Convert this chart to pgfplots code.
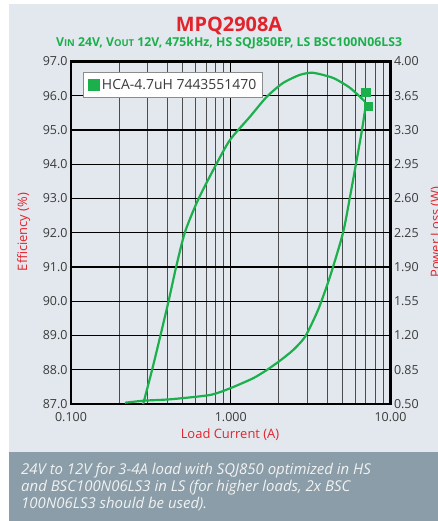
\documentclass[border=0pt]{standalone}
\usepackage{pgfplots}
\pgfplotsset{compat=1.18}
\usepackage{fontspec}
\setmainfont{Open Sans}
\definecolor{panel}{HTML}{E2E8EE}
\definecolor{band}{HTML}{8A9DA8}
\definecolor{mpsred}{HTML}{E3232C}
\definecolor{mpsgreen}{HTML}{1BB04B}
\definecolor{ticktext}{HTML}{3A3A3A}
\newcommand{\smc}[1]{{\fontsize{9.5}{10}\selectfont #1}}
\begin{document}
\begin{tikzpicture}
\useasboundingbox (0,0) rectangle (438bp,-521bp);
\fill[white] (0,0) rectangle (438bp,-521bp);
\fill[panel] (9bp,-4bp) rectangle (438bp,-452bp);
\fill[band] (9bp,-452bp) rectangle (438bp,-521bp);
\begin{axis}[
  scale only axis, width=319.5bp, height=342.5bp,
  at={(71bp,-404bp)}, anchor=south west,
  xmode=log, xmin=0.1, xmax=10,
  major tick length=0, minor tick length=0,
  tick label style={font=\fontsize{12.5}{14}\selectfont, text=ticktext},
  xticklabel style={yshift=-5bp},
  /pgf/number format/assume math mode=true,
  ymin=87, ymax=97, ytick={87,88,...,97},
  yticklabel style={/pgf/number format/.cd, fixed, fixed zerofill, precision=1},
  xtick={0.1,1,10}, xticklabels={0.100,1.000,10.00},
  minor xtick={0.2,0.3,0.4,0.5,0.6,0.7,0.8,0.9,2,3,4,5,6,7,8,9},
  xmajorgrids, xminorgrids, ymajorgrids,
  major grid style={black, line width=1.1pt},
  minor grid style={black!70, line width=0.8pt},
  axis line style={black, line width=2.2pt},
  legend style={at={(0.0376,0.969)}, anchor=north west, draw=black!45, fill=white,
    font=\fontsize{14}{16}\selectfont, text=ticktext, inner sep=4.5bp, line width=0.6pt},
  legend cell align=left,
]
\addplot[mpsgreen, line width=2.2pt, smooth, tension=0.4,
  legend image code/.code={\fill[mpsgreen] (0bp,-5bp) rectangle (10bp,5bp);}] coordinates {
(0.283,87.0)(0.322,88.0)(0.363,89.0)(0.408,90.0)(0.455,91.0)(0.517,92.02)
(0.624,92.96)(0.797,93.93)(0.989,94.71)(1.32,95.39)(1.68,95.97)
(2.12,96.37)(2.71,96.61)(3.27,96.67)(4.37,96.52)(5.58,96.23)(6.92,95.83)};
\addlegendentry{HCA-4.7uH 7443551470}
\addplot[only marks, mark=square*, mark size=4.3bp, mpsgreen, forget plot] coordinates {(7.0,96.10)};
\end{axis}
\begin{axis}[
  scale only axis, width=319.5bp, height=342.5bp,
  at={(71bp,-404bp)}, anchor=south west,
  xmode=log, xmin=0.1, xmax=10,
  major tick length=0, minor tick length=0,
  tick label style={font=\fontsize{12.5}{14}\selectfont, text=ticktext},
  /pgf/number format/assume math mode=true,
  axis y line*=right, axis x line=none,
  ymin=0.5, ymax=4, ytick={0.5,0.85,1.2,1.55,1.9,2.25,2.6,2.95,3.3,3.65,4},
  yticklabel style={/pgf/number format/.cd, fixed, fixed zerofill, precision=2},
  axis line style={black, line width=2.2pt},
]
\addplot[mpsgreen, line width=2.2pt, smooth, tension=0.4] coordinates {
(0.218,0.513)(0.286,0.534)(0.417,0.548)(0.741,0.592)(0.989,0.660)(1.38,0.763)
(1.68,0.847)(2.03,0.942)(2.46,1.052)(2.92,1.188)(3.52,1.461)(4.18,1.801)
(5.04,2.247)(5.58,2.618)(6.14,2.993)(6.63,3.30)(6.98,3.538)};
\addplot[only marks, mark=square*, mark size=4.3bp, mpsgreen] coordinates {(7.26,3.545)};
\end{axis}
\node[anchor=base, text=mpsred, font=\bfseries\fontsize{20}{22}\selectfont] at (229bp,-31bp) {MPQ2908A};
\node[anchor=base, text=mpsgreen, font=\bfseries\fontsize{12.3}{14}\selectfont] at (229bp,-46bp)
  {V\smc{IN} 24V, V\smc{OUT} 12V, 475kHz, HS SQJ850EP, LS BSC100N06LS3};
\node[anchor=base, text=mpsred, font=\fontsize{13}{15}\selectfont] at (230bp,-438bp) {Load Current (A)};
\node[anchor=base, rotate=90, text=mpsred, font=\fontsize{13}{15}\selectfont] at (27bp,-232bp) {Efficiency (\%)};
\node[anchor=base, rotate=90, text=mpsred, font=\fontsize{13}{15}\selectfont] at (440bp,-232bp) {Power Loss (W)};
\begin{scope}[every node/.style={anchor=base west, inner sep=0pt, text=white!95!black, font=\itshape\fontsize{15}{17}\selectfont}]
\node at (21bp,-474.5bp) {24V to 12V for 3-4A load with SQJ850 optimized in HS};
\node at (21bp,-491.5bp) {and BSC100N06LS3 in LS (for higher loads, 2x BSC};
\node at (21bp,-508.5bp) {100N06LS3 should be used).};
\end{scope}
\end{tikzpicture}
\end{document}
